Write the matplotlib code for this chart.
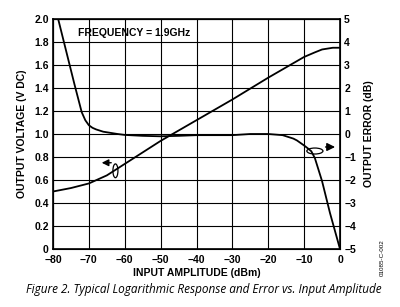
import matplotlib
matplotlib.use("Agg")
import matplotlib.pyplot as plt
from matplotlib.patches import Ellipse

# Data
input_dbm = [-80, -75, -70, -65, -60, -55, -50, -45, -40, -30, -20, -10, -7, -5, -2, 0]
output_v = [0.50, 0.53, 0.57, 0.64, 0.74, 0.84, 0.94, 1.03, 1.12, 1.30, 1.49, 1.67, 1.71, 1.735, 1.75, 1.75]

err_dbm = [-80, -78, -76, -74, -72, -71, -70, -69, -68, -66, -64, -62, -60, -55, -50, -45, -40,
           -30, -25, -20, -16, -13, -12, -10, -9, -8, -7, -5, -2.8, 0]
err_db = [5.9, 4.65, 3.4, 2.15, 0.95, 0.6, 0.38, 0.27, 0.2, 0.1, 0.05, 0.0, -0.04, -0.08, -0.1,
          -0.08, -0.05, -0.05, 0.0, 0.0, -0.05, -0.2, -0.28, -0.5, -0.62, -0.75, -1.05, -2.05, -3.43, -5.0]

x_ticks = [-80, -70, -60, -50, -40, -30, -20, -10, 0]
x_labels = ["\u221280", "\u221270", "\u221260", "\u221250", "\u221240", "\u221230", "\u221220", "\u221210", "0"]
yl_ticks = [0, 0.2, 0.4, 0.6, 0.8, 1.0, 1.2, 1.4, 1.6, 1.8, 2.0]
yl_labels = ["0", "0.2", "0.4", "0.6", "0.8", "1.0", "1.2", "1.4", "1.6", "1.8", "2.0"]
yr_ticks = [-5, -4, -3, -2, -1, 0, 1, 2, 3, 4, 5]
yr_labels = ["\u22125", "\u22124", "\u22123", "\u22122", "\u22121", "0", "1", "2", "3", "4", "5"]

plt.rcParams['font.family'] = ['Liberation Sans', 'DejaVu Sans']

fig = plt.figure(figsize=(4.0, 3.07), dpi=100)
ax = fig.add_axes([53/400, 58/307, 287/400, 230/307])
ax.set_xlim(-80, 0)
ax.set_ylim(0, 2.0)
ax.set_xticks(x_ticks)
ax.set_xticklabels(x_labels, fontsize=7.5, fontweight='bold')
ax.set_yticks(yl_ticks)
ax.set_yticklabels(yl_labels, fontsize=7.5, fontweight='bold')
ax.tick_params(axis='y', length=0, pad=3)
ax.tick_params(axis='x', length=0, pad=4.5)
ax.grid(True, color='black', linewidth=0.8)
ax.set_axisbelow(True)
for s in ax.spines.values():
    s.set_linewidth(1.2)

ax2 = ax.twinx()
ax2.set_ylim(-5, 5)
ax2.set_yticks(yr_ticks)
ax2.set_yticklabels(yr_labels, fontsize=7.5, fontweight='bold')
ax2.tick_params(length=0, pad=3)

ax.plot(input_dbm, output_v, color='black', linewidth=1.3)
ax2.plot(err_dbm, err_db, color='black', linewidth=1.3)

ax.text(-73, 1.88, "FREQUENCY = 1.9GHz", fontsize=7.5, fontweight='bold', va='center', ha='left')

# annotation arrows and ellipses
ax.add_patch(Ellipse((-62.6, 0.68), 1.4, 0.12, fill=False, edgecolor='black', linewidth=0.9))
ax.annotate("", xy=(-67.2, 0.75), xytext=(-63.0, 0.75),
            arrowprops=dict(arrowstyle='-|>', color='black', lw=1.0, mutation_scale=10))
ax.add_patch(Ellipse((-7.0, 0.852), 4.5, 0.052, fill=False, edgecolor='black', linewidth=0.9))
ax.annotate("", xy=(-0.6, 0.887), xytext=(-4.8, 0.887),
            arrowprops=dict(arrowstyle='-|>', color='black', lw=1.0, mutation_scale=12))

ax.set_xlabel("INPUT AMPLITUDE (dBm)", fontsize=7.5, fontweight='bold', labelpad=2)
ax.set_ylabel("OUTPUT VOLTAGE (V DC)", fontsize=7.5, fontweight='bold', labelpad=5)
ax2.set_ylabel("OUTPUT ERROR (dB)", fontsize=7.5, fontweight='bold', labelpad=6)

fig.text(204/400, 1 - 290/307, "Figure 2. Typical Logarithmic Response and Error vs. Input Amplitude",
         fontsize=8.5, style='italic', ha='center', va='center', family=['Open Sans', 'DejaVu Sans'])
fig.text(382/400, 1 - 258/307, "01085-C-002", fontsize=4.5, rotation=90, ha='center', va='center')

fig.savefig("out.png", dpi=100)
